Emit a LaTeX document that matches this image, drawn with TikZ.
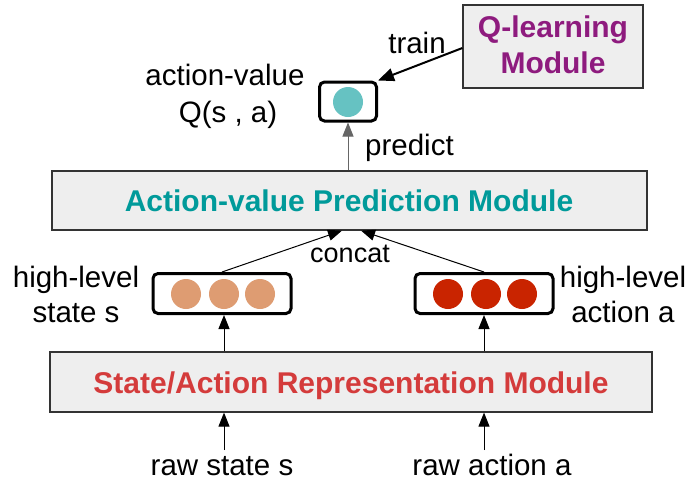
\documentclass[tikz,border=0pt]{standalone}
\usepackage{fontspec}
\setmainfont{Liberation Sans}
\usetikzlibrary{arrows.meta}
\definecolor{modfill}{HTML}{EEEEEE}
\definecolor{tealtxt}{HTML}{009A9A}
\definecolor{purptxt}{HTML}{8E1B7E}
\definecolor{redtxt}{HTML}{D43B3B}
\definecolor{qdot}{HTML}{66C2C2}
\definecolor{sdot}{HTML}{DE9C72}
\definecolor{adot}{HTML}{C92400}
\tikzset{
  module/.style={draw=black!80, line width=1.2pt, fill=modfill, inner sep=0pt},
  modtxt/.style={font=\bfseries\fontsize{30}{36}\selectfont, inner sep=0pt, anchor=base},
  vecbox/.style={draw=black, line width=3pt, rounded corners=5pt, fill=white, inner sep=0pt},
  lbl/.style={font=\fontsize{29.5}{35}\selectfont, align=center, inner sep=0pt, anchor=base},
  arr/.style={-{Triangle[length=14pt,width=11pt]}, line width=1pt},
  dot/.style={circle, inner sep=0pt, minimum size=30pt}
}
\begin{document}
\begin{tikzpicture}[x=1pt,y=-1pt]
\useasboundingbox (0,0) rectangle (688,480);

% module boxes
\node[module, minimum width=602pt, minimum height=60pt] (rep) at (351,382) {};
\node[modtxt, text=redtxt] (replbl) at (351,393) {State/Action Representation Module};
\node[module, minimum width=595pt, minimum height=59pt] (pred) at (349.5,200.5) {};
\node[modtxt, text=tealtxt] (predlbl) at (349,211) {Action-value Prediction Module};
\node[module, minimum width=180pt, minimum height=83pt] (ql) at (553,46.5) {};
\node[modtxt, text=purptxt] (qllbl1) at (553,37) {Q-learning};
\node[modtxt, text=purptxt] (qllbl2) at (553,73) {Module};

% vector boxes
\node[vecbox, minimum width=138pt, minimum height=40pt] (sbox) at (222,293.5) {};
\node[dot, fill=sdot] (s1) at (186,294) {};
\node[dot, fill=sdot] (s2) at (224,294) {};
\node[dot, fill=sdot] (s3) at (260,294) {};
\node[vecbox, minimum width=138pt, minimum height=40pt] (abox) at (484,293.5) {};
\node[dot, fill=adot] (a1) at (448,294) {};
\node[dot, fill=adot] (a2) at (486,294) {};
\node[dot, fill=adot] (a3) at (522,294) {};
\node[vecbox, minimum width=57pt, minimum height=39pt] (qbox) at (348,101.5) {};
\node[dot, fill=qdot] (q1) at (348,102) {};

% labels
\node[lbl] (rawS) at (222,475) {raw state s};
\node[lbl] (rawA) at (492,475) {raw action a};
\node[lbl] (hlS1) at (76,287) {high-level};
\node[lbl] (hlS2) at (76,322) {state s};
\node[lbl] (hlA1) at (623,287) {high-level};
\node[lbl] (hlA2) at (623,322) {action a};
\node[lbl] (qlbl1) at (225,85) {action-value};
\node[lbl] (qlbl2) at (228,122) {Q(s , a)};
\node[font=\fontsize{27}{30}\selectfont, inner sep=0pt, anchor=base] (concat) at (350,262) {concat};
\node[lbl, anchor=base west] (predict) at (365,155) {predict};
\node[lbl] (train) at (417,53) {train};

% connectors
\coordinate (rs) at (224,450);
\coordinate (ra) at (484,450);
\coordinate (cl0) at (342,0);
\coordinate (cr0) at (361,0);
\coordinate (tr0) at (0,48);
\draw[arr] (rs) -- (rs |- rep.south);
\draw[arr] (ra) -- (ra |- rep.south);
\draw[arr] (rep.north -| rs) -- (sbox.south -| rs);
\draw[arr] (rep.north -| ra) -- (abox.south -| ra);
\draw[arr] (sbox.north) -- (cl0 |- pred.south);
\draw[arr] (abox.north) -- (cr0 |- pred.south);
\draw[arr, draw=black!60] (pred.north -| qbox) -- (qbox.south);
\draw[-{Triangle[length=16pt,width=13pt]}, line width=2pt] (ql.west |- tr0) -- (qbox.north east);
\end{tikzpicture}
\end{document}
